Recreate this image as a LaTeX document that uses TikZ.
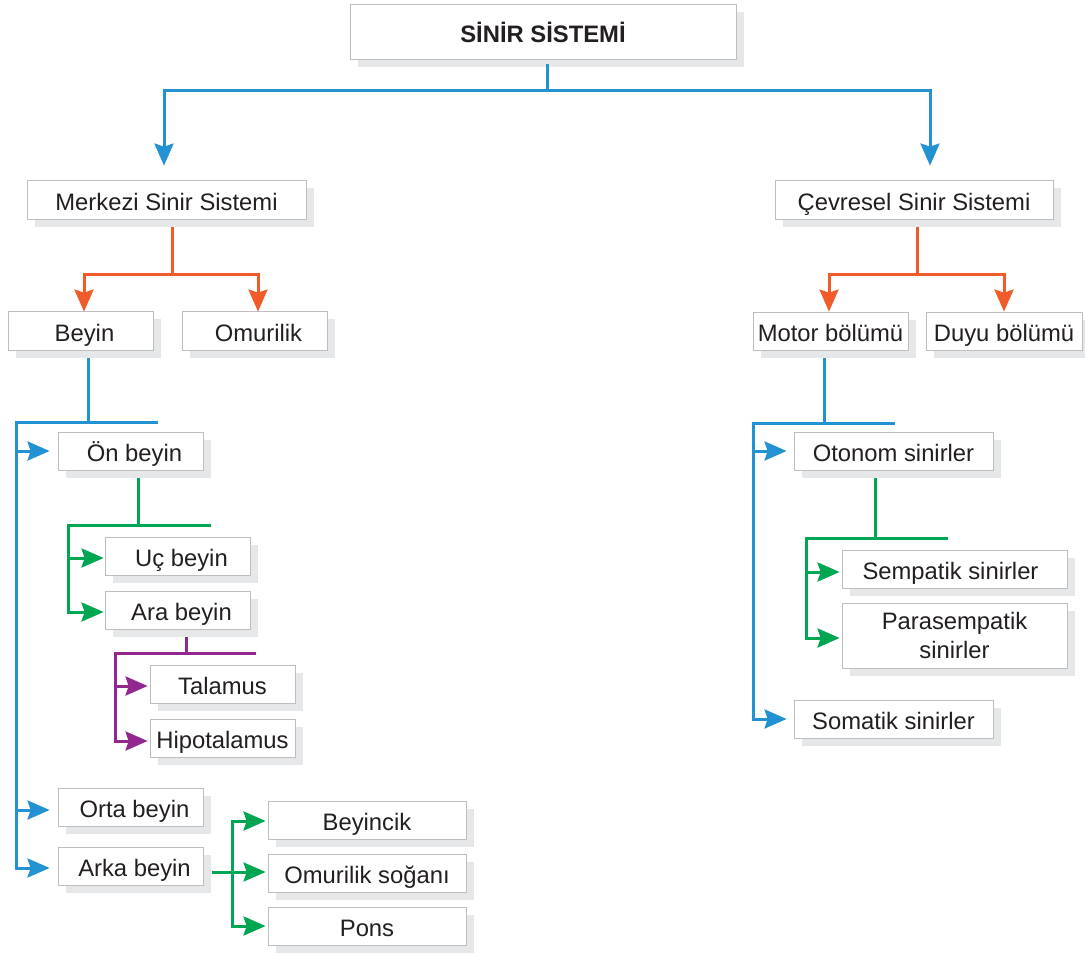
\documentclass[tikz,border=0pt]{standalone}
\usepackage{fontspec}
\setmainfont{Liberation Sans}
\usetikzlibrary{arrows.meta,shadows,calc}
\definecolor{cblue}{RGB}{35,146,211}
\definecolor{corange}{RGB}{241,90,41}
\definecolor{cgreen}{RGB}{0,166,81}
\definecolor{cpurple}{RGB}{146,39,143}
\definecolor{cborder}{RGB}{188,190,192}
\definecolor{cshadow}{RGB}{230,231,232}
\definecolor{ctext}{RGB}{35,31,32}
\newcommand\rsh[1]{\hspace*{8pt}#1}
\newcommand\lsh[1]{#1\hspace*{8pt}}
\begin{document}
\begin{tikzpicture}[x=1pt,y=-1pt,
  boxbase/.style={draw=cborder, line width=0.8pt, fill=white, inner sep=0pt,
    text=ctext, font=\fontsize{23.8}{29}\selectfont,
    drop shadow={shadow xshift=8pt, shadow yshift=-8pt, fill=cshadow, opacity=1}},
  box/.style={boxbase, text height=23pt, text depth=2pt},
  con/.style={line width=3pt, -{Stealth[length=22pt,width=19pt,inset=3pt]}},
  bus/.style={line width=3pt}]
\useasboundingbox (0,0) rectangle (1085,956);

% nodes
\node[box, minimum width=386pt, minimum height=55pt] (title) at (543,31.5) {\bfseries SİNİR SİSTEMİ};
\node[box, minimum width=279pt, minimum height=39pt] (mss) at (166.5,199.5) {Merkezi Sinir Sistemi};
\node[box, minimum width=278pt, minimum height=39pt] (css) at (914,199.5) {Çevresel Sinir Sistemi};
\node[box, minimum width=145pt, minimum height=39pt] (beyin) at (80.5,330.5) {\rsh{Beyin}};
\node[box, minimum width=145pt, minimum height=39pt] (omur) at (254.5,330.5) {\rsh{Omurilik}};
\node[box, minimum width=155pt, minimum height=38pt] (motor) at (830.5,331) {Motor bölümü};
\node[box, minimum width=156pt, minimum height=38pt] (duyu) at (1004,331) {Duyu bölümü};
\node[box, minimum width=145pt, minimum height=38pt] (onb) at (130.5,451) {\rsh{Ön beyin}};
\node[box, minimum width=145pt, minimum height=38pt] (ucb) at (177.5,556) {\rsh{Uç beyin}};
\node[box, minimum width=145pt, minimum height=38pt] (arab) at (177.5,610) {\rsh{Ara beyin}};
\node[box, minimum width=145pt, minimum height=38pt] (tal) at (222.5,684) {Talamus};
\node[box, minimum width=145pt, minimum height=38pt] (hipo) at (222.5,738) {Hipotalamus};
\node[box, minimum width=145pt, minimum height=38pt] (orta) at (130.5,807) {\rsh{Orta beyin}};
\node[box, minimum width=145pt, minimum height=38pt] (arka) at (130.5,866) {\rsh{Arka beyin}};
\node[box, minimum width=198pt, minimum height=38pt] (beyc) at (367,820) {Beyincik};
\node[box, minimum width=198pt, minimum height=38pt] (omso) at (367,873) {Omurilik soğanı};
\node[box, minimum width=198pt, minimum height=38pt] (pons) at (367,926) {Pons};
\node[box, minimum width=199pt, minimum height=38pt] (oton) at (893.5,451) {Otonom sinirler};
\node[box, minimum width=225pt, minimum height=38pt] (semp) at (954.5,569) {\lsh{Sempatik sinirler}};
\node[boxbase, align=center, minimum width=225pt, minimum height=65pt] (para) at (954.5,635.5) {Parasempatik\\sinirler};
\node[box, minimum width=199pt, minimum height=38pt] (soma) at (893.5,719) {Somatik sinirler};

% 1: title -> MSS, CSS
\coordinate (t1) at ($(title.south)+(4,31)$);
\draw[bus,cblue] ($(title.south)+(4,5)$) -- (t1);
\draw[con,cblue] (t1) -| ($(mss.north)+(-2.5,-14)$);
\draw[con,cblue] (t1) -| ($(css.north)+(16,-14)$);

% 2: MSS -> Beyin, Omurilik
\coordinate (m1) at ($(mss.south)+(5.5,55)$);
\draw[bus,corange] ($(mss.south)+(5.5,8)$) -- (m1);
\draw[con,corange] (m1) -| ($(beyin.north)+(3.5,1)$);
\draw[con,corange] (m1) -| ($(omur.north)+(3.5,1)$);

% 3: CSS -> Motor, Duyu
\coordinate (c1) at ($(css.south)+(3,55)$);
\draw[bus,corange] ($(css.south)+(3,8)$) -- (c1);
\draw[con,corange] (c1) -| ($(motor.north)+(-1.5,0)$);
\draw[con,corange] (c1) -| (duyu.north);

% 4: Beyin -> On, Orta, Arka
\coordinate (b1L) at (16,422);
\coordinate (b1R) at (158,422);
\draw[bus,cblue] ($(beyin.south)+(7.5,8)$) -- ($(beyin.south)+(7.5,72)$);
\draw[con,cblue] (b1R) -- (b1L) |- ($(arka.west)+(-8,2)$);
\draw[con,cblue] (b1L |- onb.west) -- ($(onb.west)+(-8,0)$);
\draw[con,cblue] ($(b1L |- orta.west)+(0,3)$) -- ($(orta.west)+(-8,3)$);

% 5: On beyin -> Uc, Ara
\coordinate (o1L) at (68,525);
\coordinate (o1R) at (211,525);
\draw[bus,cgreen] ($(onb.south)+(7.5,8)$) -- ($(onb.south)+(7.5,55)$);
\draw[con,cgreen] (o1R) -- (o1L) |- ($(arab.west)+(-1,2)$);
\draw[con,cgreen] ($(o1L |- ucb.west)+(0,2)$) -- ($(ucb.west)+(-1,2)$);

% 6: Ara beyin -> Talamus, Hipotalamus
\coordinate (a1L) at (115,653);
\coordinate (a1R) at (256,653);
\draw[bus,cpurple] ($(arab.south)+(8.5,8)$) -- ($(arab.south)+(8.5,24)$);
\draw[con,cpurple] (a1R) -- (a1L) |- ($(hipo.west)+(-2,3)$);
\draw[con,cpurple] ($(a1L |- tal.west)+(0,2)$) -- ($(tal.west)+(-2,2)$);

% 7: Arka beyin -> Beyincik, Omurilik sogani, Pons
\coordinate (k1) at ($(arka.east)+(29,6)$);
\draw[con,cgreen] ($(arka.east)+(9,6)$) -- ($(omso.west)+(-2,-1)$);
\draw[con,cgreen] (k1) |- ($(beyc.west)+(-2,1)$);
\draw[con,cgreen] (k1) |- ($(pons.west)+(-2,0)$);

% 8: Motor -> Otonom, Somatik
\coordinate (r1L) at (753,423);
\coordinate (r1R) at (895,423);
\draw[bus,cblue] ($(motor.south)+(-6.5,8)$) -- ($(motor.south)+(-6.5,73)$);
\draw[con,cblue] (r1R) -- (r1L) |- ($(soma.west)+(-7,0)$);
\draw[con,cblue] (r1L |- oton.west) -- ($(oton.west)+(-7,0)$);

% 9: Otonom -> Sempatik, Parasempatik
\coordinate (s1L) at (806,538);
\coordinate (s1R) at (948,538);
\draw[bus,cgreen] ($(oton.south)+(-18.5,8)$) -- ($(oton.south)+(-18.5,68)$);
\draw[con,cgreen] (s1R) -- (s1L) |- ($(para.west)+(-2,2.5)$);
\draw[con,cgreen] ($(s1L |- semp.west)+(0,3)$) -- ($(semp.west)+(-2,3)$);
\end{tikzpicture}
\end{document}
